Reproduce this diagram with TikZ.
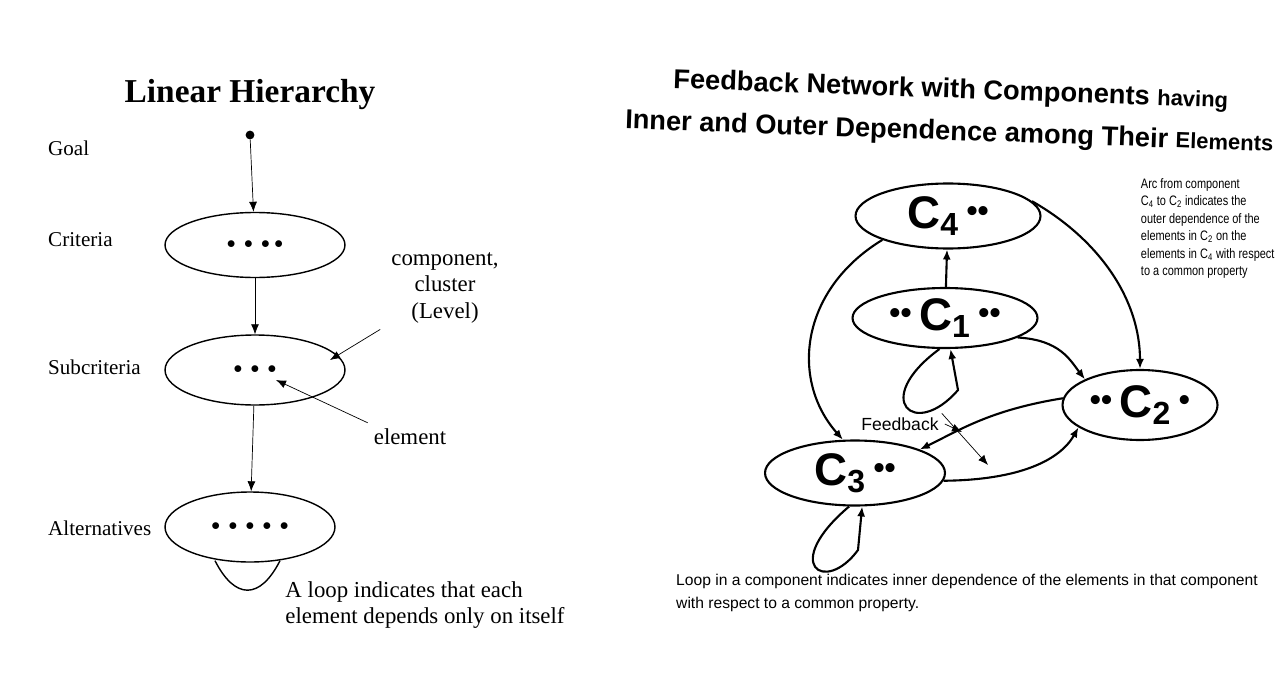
\documentclass[tikz,border=0pt]{standalone}
\usepackage{fontspec}
\newfontfamily\arialish{Liberation Sans}
\setmainfont{Liberation Serif}
\usetikzlibrary{arrows.meta,shapes.geometric,calc}
\newcommand{\sdots}[1]{\raisebox{4pt}{\fontsize{18}{18}\selectfont#1}}
\tikzset{%
  >={Latex[width=1.6mm,length=2mm]},
  % node styles
      level/.style = {ellipse, draw=black, thick, inner sep=0pt},
       comp/.style = {ellipse, draw=black, very thick, inner sep=0pt, font=\arialish\bfseries\fontsize{26}{26}\selectfont},
      label/.style = {font=\fontsize{12}{13}\selectfont, align=left, anchor=west},
       note/.style = {font=\arialish\fontsize{7.8}{10}\selectfont, align=left, xscale=0.8},
        dot/.style = {circle, fill=black, inner sep=0pt, minimum size=5pt},
}
\begin{document}
\begin{tikzpicture}[x=0.02cm, y=-0.02cm]
  \useasboundingbox (0,0) rectangle (1280,689);
  % left: linear hierarchy
  \node[font=\bfseries\fontsize{19}{20}\selectfont] (lhtitle) at (250,95) {Linear Hierarchy};
  \node[dot] (goal) at (250,135) {};
  \node[level, minimum width=3.6cm, minimum height=1.3cm] (crit) at (255,245) {$\bullet\ \bullet\ \bullet\ \bullet$};
  \node[level, minimum width=3.6cm, minimum height=1.4cm] (sub) at (255,370) {$\bullet\ \bullet\ \bullet$};
  \node[level, minimum width=3.4cm, minimum height=1.4cm] (alt) at (250,527) {$\bullet\ \bullet\ \bullet\ \bullet\ \bullet$};
  \node[label] (lgoal) at (42,148) {Goal};
  \node[label] (lcrit) at (42,240) {Criteria};
  \node[label] (lsub) at (42,367) {Subcriteria};
  \node[label] (lalt) at (42,528) {Alternatives};
  \node[font=\fontsize{13}{15}\selectfont, align=center] (lcomp) at (445,288) {component,\\cluster\\(Level)};
  \node[font=\fontsize{13}{15}\selectfont] (lelem) at (410,437) {element};
  \node[font=\fontsize{13}{15}\selectfont, align=left] (lloop) at (425,605) {A loop indicates that each\\element depends only on itself};
  \coordinate (elemdot) at (276,380);
  \coordinate (compend) at (330,360);
  \draw[->, thin] (goal) -- (crit);
  \draw[->, thin] (crit) -- (sub);
  \draw[->, thin] (sub) -- (alt);
  \draw[->] ($(lcomp.south west)+(-5,0)$) -- (compend);
  \draw[->] (lelem.north west) -- (elemdot);
  \draw[thick] ($(alt.south)+(-35,-2)$) .. controls (235,600) and (260,600) .. ($(alt.south)+(30,-2)$);
  % right: feedback network
  \node[font=\arialish\bfseries\fontsize{15.5}{24}\selectfont, align=center, rotate=-2] (fbtitle) at (950,112) {Feedback Network with Components {\fontsize{12.5}{12.5}\selectfont having}\\Inner and Outer Dependence among Their {\fontsize{12.5}{12.5}\selectfont Elements}};
  \node[comp, minimum width=3.7cm, minimum height=1.3cm] (c4) at (948,216) {C\textsubscript{4}\,\sdots{\textbullet\textbullet}};
  \node[comp, minimum width=3.7cm, minimum height=1.2cm] (c1) at (945,318) {\sdots{\textbullet\textbullet}\,C\textsubscript{1}\,\sdots{\textbullet\textbullet}};
  \node[comp, minimum width=3.1cm, minimum height=1.4cm] (c2) at (1140,405) {\sdots{\textbullet\textbullet}\,C\textsubscript{2}\,\sdots{\textbullet}};
  \node[comp, minimum width=3.6cm, minimum height=1.3cm] (c3) at (855,473) {C\textsubscript{3}\,\sdots{\textbullet\textbullet}};
  \node[note, anchor=north west] (arcnote) at (1136,172) {Arc from component\\C\textsubscript{4} to C\textsubscript{2} indicates the\\outer dependence of the\\elements in C\textsubscript{2} on the\\elements in C\textsubscript{4} with respect\\to a common property};
  \node[font=\arialish\fontsize{10}{10}\selectfont] (lfb) at (900,424) {Feedback};
  \node[anchor=north west, align=left, font=\arialish\fontsize{8.9}{13}\selectfont] (loopnote) at (670,568) {Loop in a component indicates inner dependence of the elements in that component\\with respect to a common property.};
  \coordinate (fbend1) at (962,432);
  \coordinate (fbend2) at (988,465);
  \draw[->, very thick] (c1) -- (c4);
  \draw[->, very thick] (c4.200) .. controls (800,290) and (790,380) .. (c3.110);
  \draw[->, very thick] (c4.10) .. controls (1100,240) and (1140,300) .. (c2.90);
  \draw[->, very thick] (c1.-15) .. controls (1060,340) and (1070,360) .. (c2.155);
  \draw[->, very thick] (c2.175) .. controls (990,410) and (960,430) .. (c3.20);
  \draw[->, very thick] (c3.-5) .. controls (1020,480) and (1060,460) .. (c2.200);
  \draw[->, very thick] (c1.-100) .. controls (870,400) and (915,440) .. (958,390) -- (c1.-80);
  \draw[->, very thick] (c3.-100) .. controls (780,565) and (825,595) .. (858,550) -- (c3.-78);
  \draw[->] (lfb.east) -- (fbend1);
  \draw[->] ($(lfb.north east)+(-3,2)$) -- (fbend2);
\end{tikzpicture}
\end{document}
